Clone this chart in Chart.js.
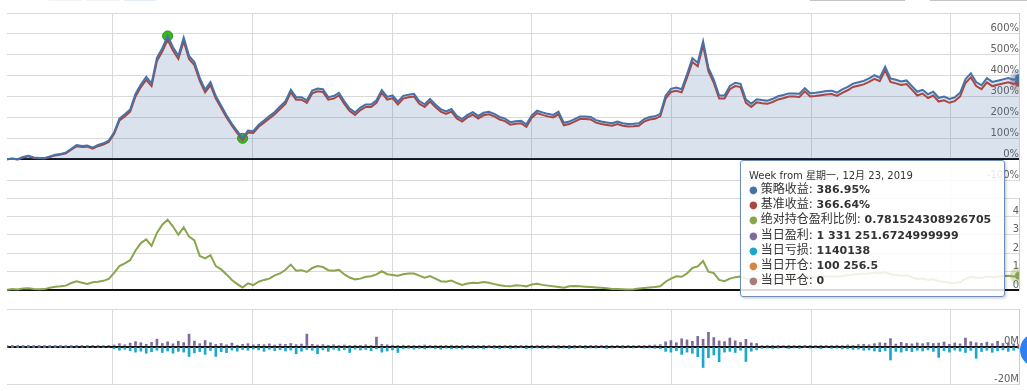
<!DOCTYPE html>
<html>
<head>
<meta charset="utf-8">
<title>策略收益</title>
<script src="https://cdn.jsdelivr.net/npm/chart.js"></script>
<style>
  html, body { margin: 0; padding: 0; background: #fff; }
  #wrap { position: relative; width: 1027px; height: 391px; overflow: hidden; }
  #returnsChart { position: absolute; left: 0; top: 0; }
  .edge { position: absolute; top: 0; height: 1px; }
  #toTop { position: absolute; left: 1020px; top: 333px; width: 34px; height: 34px; border-radius: 50%; background: #2f7ef2; }
  #tip {
    position: absolute; display: none; box-sizing: border-box; width: 265px; height: 137px;
    background: rgba(255, 255, 255, 0.85); border: 1px solid #6f8db8; border-radius: 3px;
    box-shadow: 1px 1px 3px rgba(0, 0, 0, 0.25);
    padding: 9px 8px 0 8px; color: #333; white-space: nowrap; pointer-events: none;
    font-family: "DejaVu Sans", "Noto Sans CJK SC", sans-serif;
  }
  #tip .hd { font-size: 10px; line-height: 12px; }
  #tip .row { font-size: 12px; line-height: 15.2px; }
  #tip .row b { font-size: 11px; }
  #tip .dot { font-size: 10px; margin-right: 3px; }
</style>
</head>
<body>
<div id="wrap">
  <canvas id="returnsChart" width="1027" height="391"></canvas>
  <div class="edge" style="left:49px;width:33px;background:#f3f3f3"></div>
  <div class="edge" style="left:86px;width:34px;background:#f3f3f3"></div>
  <div class="edge" style="left:124px;width:32px;background:#e4ecf8"></div>
  <div class="edge" style="left:810px;width:95px;background:#c4c4c4"></div>
  <div class="edge" style="left:930px;width:97px;background:#c4c4c4"></div>
  <div id="toTop"></div>
  <div id="tip"></div>
</div>
<script>
// weekly samples, every 4th week, 2005-06-27 .. 2019-12-23
var startDay = Date.UTC(2005, 5, 27);

// 策略收益 (%)
var strat = [
  0, 3, 0, 10, 16, 8, 6, 5, 13, 21,
  25, 31, 49, 67, 63, 65, 55, 68, 76, 89,
  128, 194, 215, 238, 312, 358, 394, 363, 485, 531,
  590, 536, 495, 582, 495, 465, 389, 333, 369, 302,
  256, 210, 169, 134, 100, 137, 134, 165, 185, 206,
  226, 252, 277, 333, 297, 297, 282, 328, 338, 335,
  297, 302, 317, 277, 242, 224, 247, 262, 262, 282,
  331, 298, 305, 275, 303, 309, 313, 278, 263, 289,
  262, 240, 229, 240, 207, 192, 212, 225, 207, 222,
  227, 217, 202, 194, 177, 182, 184, 167, 210, 232,
  224, 217, 212, 227, 174, 180, 192, 204, 204, 202,
  187, 180, 176, 172, 180, 172, 169, 170, 172, 192,
  202, 205, 217, 304, 337, 343, 335, 406, 483, 462,
  565, 437, 381, 305, 305, 351, 366, 361, 285, 265,
  287, 283, 280, 289, 301, 307, 315, 315, 313, 340,
  316, 318, 322, 326, 328, 319, 334, 346, 362, 368,
  375, 387, 402, 390, 442, 387, 380, 372, 377, 350,
  323, 332, 311, 323, 294, 300, 288, 296, 318, 383,
  411, 369, 354, 388, 370, 376, 382, 388, 380, 386.95
];

// 基准收益 (%)
var bench = [
  0, 2, -1, 8, 14, 6, 4, 3, 10, 18,
  22, 28, 45, 62, 58, 60, 50, 62, 70, 82,
  120, 185, 205, 228, 300, 345, 380, 350, 470, 515,
  572, 520, 480, 565, 480, 450, 375, 320, 355, 290,
  245, 200, 160, 125, 92, 128, 125, 155, 175, 195,
  215, 240, 265, 320, 285, 285, 270, 315, 325, 322,
  285, 290, 305, 265, 230, 212, 235, 250, 250, 270,
  318, 285, 292, 262, 290, 296, 300, 265, 250, 276,
  250, 228, 217, 228, 195, 180, 200, 213, 195, 210,
  215, 205, 190, 182, 165, 170, 172, 155, 198, 220,
  212, 205, 200, 215, 162, 168, 180, 192, 192, 190,
  175, 168, 164, 160, 168, 160, 157, 158, 160, 180,
  190, 193, 205, 290, 322, 328, 320, 390, 465, 445,
  545, 420, 365, 290, 290, 335, 350, 345, 270, 250,
  272, 268, 265, 274, 286, 292, 300, 300, 298, 325,
  300, 302, 306, 310, 312, 303, 318, 330, 346, 352,
  358, 370, 385, 373, 425, 370, 363, 355, 360, 333,
  305, 314, 293, 305, 276, 282, 270, 278, 300, 365,
  392, 350, 335, 368, 350, 356, 362, 368, 360, 366.64
];

// 绝对持仓盈利比例
var ratio = [
  0.02, 0.05, 0.03, 0.08, 0.1, 0.06, 0.04, 0.05, 0.12, 0.18,
  0.2, 0.24, 0.38, 0.47, 0.4, 0.33, 0.42, 0.45, 0.5, 0.6,
  0.93, 1.3, 1.45, 1.62, 2.15, 2.55, 2.75, 2.4, 3.1, 3.55,
  3.82, 3.45, 3.0, 3.4, 2.9, 2.7, 1.85, 1.72, 1.9, 1.3,
  1.12, 0.85, 0.55, 0.32, 0.14, 0.36, 0.27, 0.45, 0.55, 0.62,
  0.8, 0.9, 1.1, 1.38, 1.05, 1.08, 0.98, 1.2, 1.3, 1.25,
  1.08, 1.05, 1.1, 0.85, 0.68, 0.58, 0.62, 0.72, 0.75, 0.85,
  1.02, 0.86, 0.82, 0.78, 0.86, 0.9, 0.9, 0.78, 0.67, 0.76,
  0.62, 0.48, 0.45, 0.52, 0.38, 0.28, 0.36, 0.4, 0.38, 0.44,
  0.4, 0.32, 0.26, 0.22, 0.2, 0.26, 0.24, 0.2, 0.3, 0.34,
  0.28, 0.24, 0.2, 0.17, 0.12, 0.2, 0.22, 0.2, 0.18, 0.16,
  0.14, 0.12, 0.1, 0.06, 0.05, 0.04, 0.03, 0.04, 0.08, 0.11,
  0.14, 0.16, 0.2, 0.45, 0.62, 0.75, 0.72, 0.9, 1.2, 1.28,
  1.58, 1.0, 0.92, 0.55, 0.48, 0.62, 0.7, 0.74, 0.62, 0.55,
  0.6, 0.58, 0.56, 0.6, 0.64, 0.66, 0.7, 0.68, 0.66, 0.75,
  0.68, 0.7, 0.72, 0.74, 0.75, 0.72, 0.76, 0.8, 0.84, 0.86,
  0.88, 0.9, 0.95, 0.9, 0.98, 0.86, 0.82, 0.78, 0.8, 0.7,
  0.6, 0.62, 0.55, 0.58, 0.48, 0.45, 0.4, 0.38, 0.42, 0.6,
  0.72, 0.68, 0.65, 0.74, 0.7, 0.72, 0.75, 0.77, 0.74, 0.781524308926705
];

// 当日盈利
var profit = [
  5e4, 3e4, 8e4, 1e5, 5e4, 4e4, 6e4, 5e4, 8e4, 1e5,
  1.2e5, 1.5e5, 2e5, 3e5, 2.5e5, 3.5e5, 4e5, 3e5, 5e5, 4.5e5,
  8e5, 1.5e6, 9e5, 1.8e6, 2.6e6, 2e6, 1.2e6, 2.2e6, 3.9e6, 1.6e6,
  2.5e6, 1.4e6, 2.8e6, 2.1e6, 6.6e6, 2.9e6, 1.5e6, 3.2e6, 2e6, 1.1e6,
  1.6e6, 9e5, 1.8e6, 7e5, 1.2e6, 1.5e6, 9e5, 1.2e6, 1e6, 1.4e6,
  8e5, 1.3e6, 1.1e6, 1.6e6, 1e6, 1.3e6, 6.6e6, 1.2e6, 8e5, 1e6,
  7e5, 9e5, 6e5, 8e5, 5e5, 7e5, 6e5, 9e5, 5e5, 5e6,
  1.2e6, 9e5, 7e5, 5e5, 7e5, 4e5, 6e5, 5e5, 8e5, 4e5,
  5e5, 6e5, 4e5, 7e5, 5e5, 3e5, 6e5, 4e5, 5e5, 6e5,
  3e5, 4e5, 5e5, 3e5, 4e5, 6e5, 3e5, 5e5, 4e5, 3e5,
  5e5, 4e5, 3e5, 4e5, 5e5, 3e5, 4e5, 3e5, 5e5, 4e5,
  3e5, 4e5, 3e5, 5e5, 4e5, 3e5, 4e5, 5e5, 6e5, 4e5,
  7e5, 8e5, 1e6, 2.5e6, 3.2e6, 2e6, 4.1e6, 3.5e6, 2.8e6, 5.4e6,
  3.9e6, 7.6e6, 4.8e6, 3e6, 2.6e6, 4.5e6, 3e6, 2.2e6, 3.8e6, 1.9e6,
  1.6e6, 5e5, 4e5, 6e5, 3e5, 5e5, 4e5, 6e5, 5e5, 3e5,
  4e5, 5e5, 6e5, 4e5, 5e5, 7e5, 5e5, 8e5, 6e5, 1e6,
  1.2e6, 9e5, 1.5e6, 2e6, 1.8e6, 4.2e6, 1.3e6, 2.2e6, 1.6e6, 1.4e6,
  1.9e6, 1.5e6, 2.1e6, 1.6e6, 1.8e6, 2.4e6, 1.2e6, 1.9e6, 1.4e6, 4.5e6,
  2.6e6, 2e6, 1.7e6, 2.3e6, 1.5e6, 2.8e6, 1.6e6, 1.9e6, 1.4e6, 1331251.6724999999
];

// 当日亏损 (drawn below zero)
var loss = [
  2e4, 4e4, 3e4, 5e4, 6e4, 3e4, 4e4, 5e4, 6e4, 8e4,
  1e5, 9e4, 1.5e5, 3e5, 5e5, 2e5, 6e5, 4e5, 3e5, 5e5,
  1.2e6, 2e6, 1.5e6, 2.2e6, 3e6, 2.5e6, 3.6e6, 2.8e6, 2e6, 3.2e6,
  2.4e6, 3.6e6, 2.6e6, 3e6, 5.3e6, 3.4e6, 2.7e6, 4.2e6, 2.1e6, 5.3e6,
  2.8e6, 3.3e6, 1.9e6, 2.5e6, 1.6e6, 2e6, 1.4e6, 1.8e6, 2.6e6, 1.5e6,
  2.2e6, 1.7e6, 2.4e6, 1.9e6, 3.9e6, 2.5e6, 1.6e6, 2e6, 3.9e6, 1.8e6,
  2.6e6, 1.5e6, 2.1e6, 1.7e6, 3.2e6, 1.4e6, 1.9e6, 1.6e6, 2.2e6, 1.3e6,
  3e6, 2.4e6, 1.8e6, 3.2e6, 1.2e6, 9e5, 1.4e6, 1e6, 1.3e6, 8e5,
  1.1e6, 1.5e6, 9e5, 1.2e6, 1e6, 1.4e6, 8e5, 1.1e6, 9e5, 1.3e6,
  7e5, 1e6, 1.2e6, 8e5, 1.1e6, 9e5, 7e5, 1.2e6, 1e6, 8e5,
  1.1e6, 9e5, 7e5, 1e6, 8e5, 1.2e6, 9e5, 7e5, 1e6, 8e5,
  9e5, 7e5, 1.1e6, 8e5, 6e5, 9e5, 7e5, 8e5, 6e5, 9e5,
  8e5, 1e6, 1.2e6, 2.6e6, 3e6, 2.2e6, 4.2e6, 3e6, 3.6e6, 5.4e6,
  1.12e7, 6e6, 4.5e6, 8.1e6, 3e6, 2.6e6, 3.2e6, 2e6, 8e6, 2.5e6,
  1.8e6, 1e6, 8e5, 1.2e6, 9e5, 7e5, 1.1e6, 8e5, 1e6, 6e5,
  9e5, 8e5, 1.2e6, 7e5, 1e6, 9e5, 1.3e6, 1.1e6, 1.6e6, 1.4e6,
  2e6, 1.8e6, 2.4e6, 2.8e6, 2.2e6, 7.2e6, 2.6e6, 3e6, 2.2e6, 2.8e6,
  2e6, 2.4e6, 1.8e6, 2.6e6, 5.8e6, 2.2e6, 3e6, 1.9e6, 2.5e6, 3.2e6,
  2.1e6, 6.3e6, 2.7e6, 2e6, 3.1e6, 2.3e6, 1.8e6, 2.6e6, 2e6, 1140138
];

// 当日开仓 / 当日平仓 (only the last week is known)
var openAmt = [100256.5];
var closeAmt = [0];

// max drawdown peak and trough (sample index)
var drawdownIdx = [30, 44];

var gridYears = [2007, 2009, 2011, 2013, 2015, 2017, 2019];
var pctTicks = [-100, 0, 100, 200, 300, 400, 500, 600, 700];
var ratioTicks = [0, 1, 2, 3, 4, 5];
var pnlTicks = [-20e6, 0, 20e6];

var dates = [];
for (var i = 0; i < strat.length; i++) {
  dates.push(startDay + i * 28 * 864e5);
}
var lastDate = dates[dates.length - 1];

var weekNames = ["星期日", "星期一", "星期二", "星期三", "星期四", "星期五", "星期六"];

function weekTitle(ts) {
  var d = new Date(ts);
  return "Week from " + weekNames[d.getUTCDay()] + ", " + (d.getUTCMonth() + 1) + "月 " +
    d.getUTCDate() + ", " + d.getUTCFullYear();
}

function groupNum(v) {
  var parts = String(v).split(".");
  parts[0] = parts[0].replace(/\B(?=(\d{3})+(?!\d))/g, " ");
  return parts.join(".");
}

function tipValue(fmt, v) {
  if (fmt === "pct") return v.toFixed(2) + "%";
  if (fmt === "group") return groupNum(v);
  if (fmt === "neg") return String(-v);
  return String(v);
}

function drawTip(context) {
  var chart = context.chart;
  var t = context.tooltip;
  var tip = document.getElementById("tip");
  if (!t.dataPoints || !t.dataPoints.length) {
    tip.style.display = "none";
    return;
  }
  var html = '<div class="hd">' + t.title[0] + "</div>";
  t.dataPoints.forEach(function(p) {
    var ds = p.dataset;
    html += '<div class="row"><span class="dot" style="color:' + ds.tipColor + '">\u25CF</span>' +
      ds.label + ": <b>" + tipValue(ds.fmt, p.parsed.y) + "</b></div>";
  });
  tip.innerHTML = html;
  tip.style.display = "block";
  tip.style.left = (t.caretX - 279) + "px";
  tip.style.top = (chart.chartArea.top + 147) + "px";
}

var axisFont = { family: "DejaVu Sans", size: 10 };
var gridGray = "#d9d9d9";

function zeroColor(c) { return c.tick && c.tick.value === 0 ? "#111" : gridGray; }
function zeroWidth(c) { return c.tick && c.tick.value === 0 ? 2 : 1; }

function paneAxis(weight, min, max, tickList, label) {
  return {
    position: "right",
    stack: "panes",
    stackWeight: weight,
    min: min,
    max: max,
    afterBuildTicks: function(s) {
      s.ticks = tickList.map(function(v) { return { value: v }; });
    },
    grid: { color: zeroColor, lineWidth: zeroWidth, drawTicks: false },
    border: { display: true, color: "#c0d0e0", width: 1 },
    ticks: {
      mirror: true,
      padding: 0,
      labelOffset: -5,
      autoSkip: false,
      color: "#606060",
      font: axisFont,
      callback: function(v) { return v === max ? "" : label(v); }
    }
  };
}

// clear the strips between panes
var paneGaps = {
  id: "paneGaps",
  beforeDatasetsDraw: function(chart) {
    var ctx = chart.ctx, area = chart.chartArea, sc = chart.scales;
    var g1 = sc.yTop.getPixelForValue(-100) + 1;
    var g2 = sc.yMid.getPixelForValue(0) + 1;
    ctx.save();
    ctx.fillStyle = "#fff";
    ctx.fillRect(area.right - 1, g1, 3, sc.yTop.bottom - g1);
    ctx.fillRect(area.left, g2, area.right - area.left + 2, sc.yMid.bottom - g2);
    ctx.restore();
  }
};

function haloLine(label, data, color, halo, axis, fmt) {
  return {
    label: label,
    data: data,
    yAxisID: axis,
    borderColor: color,
    backgroundColor: color,
    borderWidth: 2,
    pointRadius: 0,
    pointHoverRadius: 4,
    pointHoverBackgroundColor: color,
    pointHoverBorderColor: halo,
    pointHoverBorderWidth: 10,
    tension: 0,
    fill: false,
    tipColor: color,
    fmt: fmt
  };
}

var stratSet = haloLine("策略收益", strat, "#4572A7", "rgba(69,114,167,0.25)", "yTop", "pct");
stratSet.fill = "origin";
stratSet.backgroundColor = "rgba(69,114,167,0.2)";

var chart = new Chart(document.getElementById("returnsChart"), {
  type: "line",
  data: {
    labels: dates,
    datasets: [
      stratSet,
      haloLine("基准收益", bench, "#AA4643", "rgba(170,70,67,0.25)", "yTop", "pct"),
      haloLine("绝对持仓盈利比例", ratio, "#89A54E", "rgba(137,165,78,0.3)", "yMid", "raw"),
      {
        type: "bar", label: "当日盈利", data: profit, yAxisID: "yBot",
        backgroundColor: "#80699B", hoverBackgroundColor: "#80699B",
        barThickness: 2, grouped: false, tipColor: "#80699B", fmt: "group"
      },
      {
        type: "bar", label: "当日亏损", data: loss.map(function(v) { return -v; }), yAxisID: "yBot",
        backgroundColor: "#1aa8cf", hoverBackgroundColor: "#1aa8cf",
        barThickness: 2, grouped: false, tipColor: "#1aa8cf", fmt: "neg"
      },
      {
        type: "bar", label: "当日开仓", data: openAmt.map(function(v) { return { x: lastDate, y: v }; }),
        yAxisID: "yBot", backgroundColor: "#DB843D", barThickness: 2, grouped: false,
        tipColor: "#DB843D", fmt: "group"
      },
      {
        type: "bar", label: "当日平仓", data: closeAmt.map(function(v) { return { x: lastDate, y: v }; }),
        yAxisID: "yBot", backgroundColor: "#A47D7C", barThickness: 2, grouped: false,
        tipColor: "#A47D7C", fmt: "raw"
      },
      {
        label: "回撤", data: drawdownIdx.map(function(i) { return { x: dates[i], y: strat[i] }; }),
        yAxisID: "yTop", showLine: false, pointRadius: 5, pointHoverRadius: 5,
        pointBackgroundColor: "#33bb1c", pointBorderColor: "#249013", pointBorderWidth: 1
      }
    ]
  },
  options: {
    responsive: false,
    animation: false,
    events: [],
    layout: { padding: { left: 7, top: 13, right: 8, bottom: 7 } },
    plugins: {
      legend: { display: false },
      filler: { drawTime: "beforeDatasetsDraw" },
      tooltip: {
        enabled: false,
        external: drawTip,
        callbacks: { title: function(items) { return weekTitle(items[0].parsed.x); } }
      }
    },
    scales: {
      x: {
        type: "linear",
        offset: false,
        min: dates[0],
        max: lastDate,
        afterBuildTicks: function(s) {
          s.ticks = gridYears.map(function(y) { return { value: Date.UTC(y, 0, 1) }; });
        },
        grid: { color: gridGray, drawTicks: false, offset: false },
        border: { display: false },
        ticks: { display: false }
      },
      yTop: paneAxis(185, -186, 700, pctTicks, function(v) { return v + "%"; }),
      yMid: paneAxis(111, -1.03, 5, ratioTicks, function(v) { return String(v); }),
      yBot: paneAxis(75, -20e6, 20e6, pnlTicks, function(v) { return (v / 1e6) + "M"; })
    }
  },
  plugins: [paneGaps]
});

var last = dates.length - 1;
var active = [
  { datasetIndex: 0, index: last },
  { datasetIndex: 1, index: last },
  { datasetIndex: 2, index: last },
  { datasetIndex: 3, index: last },
  { datasetIndex: 4, index: last },
  { datasetIndex: 5, index: 0 },
  { datasetIndex: 6, index: 0 }
];
chart.setActiveElements(active);
chart.tooltip.setActiveElements(active, { x: 0, y: 0 });
chart.update();
</script>
</body>
</html>
